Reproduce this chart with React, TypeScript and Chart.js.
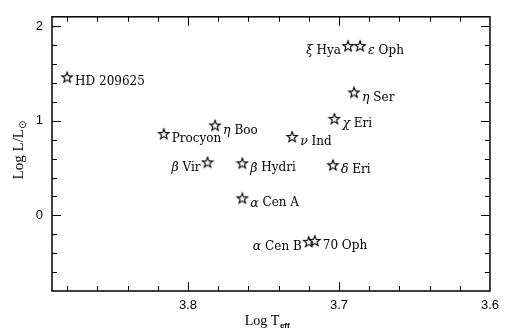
import React, { useEffect, useRef } from 'react';
import { Chart, registerables } from 'chart.js';
Chart.register(...registerables);

const starNames = ['HD 209625', 'Procyon', 'η Boo', 'β Vir', 'β Hydri', 'α Cen A', 'α Cen B', '70 Oph', 'ξ Hya', 'ε Oph', 'η Ser', 'χ Eri', 'ν Ind', 'δ Eri'];
const logTeff = [3.880, 3.816, 3.782, 3.787, 3.764, 3.764, 3.720, 3.716, 3.694, 3.686, 3.690, 3.703, 3.731, 3.704];
const logL = [1.46, 0.86, 0.95, 0.56, 0.55, 0.18, -0.28, -0.27, 1.79, 1.79, 1.30, 1.02, 0.83, 0.53];
const labelSide = ['right', 'right', 'right', 'left', 'right', 'right', 'left', 'right', 'left', 'right', 'right', 'right', 'right', 'right'];

const xMajorTicks = [3.8, 3.7, 3.6];
const xTickLabels = ['3.8', '3.7', '3.6'];
const yMajorTicks = [0, 1, 2];
const yTickLabels = ['0', '1', '2'];

const LABEL_FONT = '"DejaVu Serif"';
const GREEK = /^[\u0370-\u03FF]/;

function majorIndex(v: number, majors: number[]) {
  for (let i = 0; i < majors.length; i++) if (Math.abs(v - majors[i]) < 1e-6) return i;
  return -1;
}

function makeStar(): HTMLCanvasElement {
  const c = document.createElement('canvas');
  c.width = 14; c.height = 14;
  const g = c.getContext('2d')!;
  const cx = 7, cy = 7.3, R = 5.5, r = 2.3;
  g.beginPath();
  for (let k = 0; k < 10; k++) {
    const ang = -Math.PI / 2 + (k * Math.PI) / 5;
    const rad = k % 2 === 0 ? R : r;
    const px = cx + rad * Math.cos(ang), py = cy + rad * Math.sin(ang);
    if (k === 0) g.moveTo(px, py); else g.lineTo(px, py);
  }
  g.closePath();
  g.fillStyle = '#fff';
  g.fill();
  g.strokeStyle = '#000';
  g.lineWidth = 1.1;
  g.stroke();
  return c;
}

const framePlugin = {
  id: 'frameAndLabels',
  afterDraw(chart: any) {
    const ctx = chart.ctx as CanvasRenderingContext2D;
    const { left, right, top, bottom } = chart.chartArea;
    const xs = chart.scales.x, ys = chart.scales.y;
    ctx.save();
    ctx.strokeStyle = '#000';
    ctx.lineWidth = 1.5;
    ctx.strokeRect(left, top, right - left, bottom - top);
    ctx.lineWidth = 1;
    ctx.beginPath();
    xs.ticks.forEach((t: any) => {
      const px = Math.round(xs.getPixelForValue(t.value)) + 0.5;
      if (px < left + 1 || px > right - 1) return;
      const len = majorIndex(t.value, xMajorTicks) >= 0 ? 9 : 5;
      ctx.moveTo(px, bottom); ctx.lineTo(px, bottom - len);
      ctx.moveTo(px, top); ctx.lineTo(px, top + len);
    });
    ys.ticks.forEach((t: any) => {
      const py = Math.round(ys.getPixelForValue(t.value)) + 0.5;
      if (py < top + 1 || py > bottom - 1) return;
      const len = majorIndex(t.value, yMajorTicks) >= 0 ? 9 : 5;
      ctx.moveTo(left, py); ctx.lineTo(left + len, py);
      ctx.moveTo(right, py); ctx.lineTo(right - len, py);
    });
    ctx.stroke();

    // star labels
    const meta = chart.getDatasetMeta(0);
    ctx.fillStyle = '#000';
    ctx.textBaseline = 'middle';
    meta.data.forEach((el: any, i: number) => {
      const name = starNames[i];
      const parts: { t: string; f: string }[] = [];
      if (GREEK.test(name)) {
        parts.push({ t: name[0], f: `italic 12.5px ${LABEL_FONT}` });
        parts.push({ t: name.slice(1), f: `12px ${LABEL_FONT}` });
      } else {
        parts.push({ t: name, f: `12px ${LABEL_FONT}` });
      }
      let w = 0;
      parts.forEach((p) => { ctx.font = p.f; w += ctx.measureText(p.t).width; });
      let x = labelSide[i] === 'left' ? el.x - 7 - w : el.x + 8;
      const y = el.y + 5;
      ctx.textAlign = 'left';
      parts.forEach((p) => { ctx.font = p.f; ctx.fillText(p.t, x, y); x += ctx.measureText(p.t).width; });
    });

    // x title
    ctx.textBaseline = 'alphabetic';
    const mainF = '14px "Liberation Serif"';
    const subF = 'bold 8px "Liberation Sans"';
    ctx.font = mainF; const w1 = ctx.measureText('Log T').width;
    ctx.font = subF; const w2 = ctx.measureText('eff').width;
    const tx = (left + right) / 2 - 4 - (w1 + w2) / 2;
    ctx.font = mainF; ctx.fillText('Log T', tx, 325);
    ctx.font = subF; ctx.fillText('eff', tx + w1 + 0.5, 328);

    // y title
    const yF = '15px "Liberation Serif"';
    const ySubF = '10px "DejaVu Sans"';
    ctx.translate(23, 150);
    ctx.rotate(-Math.PI / 2);
    ctx.font = yF; const v1 = ctx.measureText('Log L/L').width;
    ctx.font = ySubF; const v2 = ctx.measureText('⊙').width;
    const sx = -(v1 + v2) / 2;
    ctx.font = yF; ctx.fillText('Log L/L', sx, 0);
    ctx.font = ySubF; ctx.fillText('⊙', sx + v1, 3);
    ctx.restore();
  },
};

export default function App() {
  const ref = useRef<HTMLCanvasElement | null>(null);
  useEffect(() => {
    const star = makeStar();
    const chart = new Chart(ref.current!, {
      type: 'scatter',
      data: {
        datasets: [{
          data: logTeff.map((x, i) => ({ x, y: logL[i] })),
          pointStyle: star as any,
          pointRadius: 6,
          borderColor: '#000',
          backgroundColor: '#fff',
        }],
      },
      options: {
        animation: false,
        responsive: false,
        events: [],
        layout: { padding: { left: 0, top: 13, right: 9, bottom: 0 } },
        plugins: { legend: { display: false }, tooltip: { enabled: false } },
        scales: {
          x: {
            type: 'linear',
            reverse: true,
            min: 3.6,
            max: 3.89,
            grid: { display: false, drawTicks: false },
            border: { display: false },
            afterFit: (s: any) => { s.height = 42; },
            ticks: {
              stepSize: 0.02,
              includeBounds: false,
              autoSkip: false,
              maxRotation: 0,
              padding: 7,
              color: '#000',
              font: { family: '"Liberation Sans"', size: 13 },
              callback: (v: any) => { const k = majorIndex(Number(v), xMajorTicks); return k >= 0 ? xTickLabels[k] : ''; },
            },
          },
          y: {
            type: 'linear',
            min: -0.8,
            max: 2.1,
            grid: { display: false, drawTicks: false },
            border: { display: false },
            afterFit: (s: any) => { s.width = 52; },
            ticks: {
              stepSize: 0.2,
              includeBounds: false,
              autoSkip: false,
              padding: 9,
              color: '#000',
              font: { family: '"Liberation Sans"', size: 13 },
              callback: (v: any) => { const k = majorIndex(Number(v), yMajorTicks); return k >= 0 ? yTickLabels[k] : ''; },
            },
          },
        },
      },
      plugins: [framePlugin],
    });
    return () => chart.destroy();
  }, []);
  return (
    <div style={{ position: 'fixed', left: 0, top: 0, width: 506, height: 333, background: '#fff' }}>
      <canvas ref={ref} width={506} height={333} />
    </div>
  );
}
